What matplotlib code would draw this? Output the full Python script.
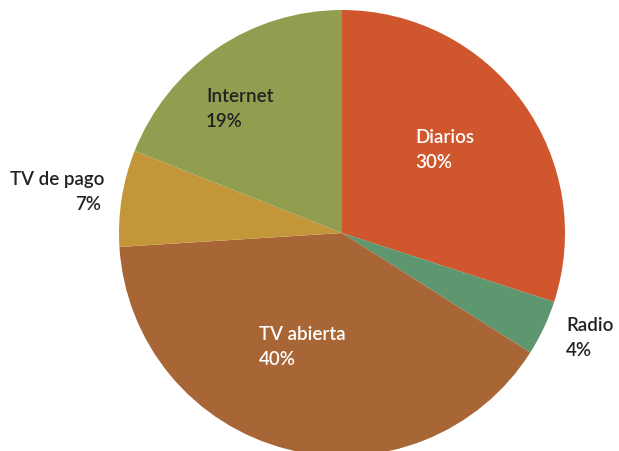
import matplotlib
matplotlib.use("Agg")
import matplotlib.pyplot as plt

# Audience share by medium
categories = ["Diarios", "Radio", "TV abierta", "TV de pago", "Internet"]
shares = [30, 4, 40, 7, 19]
colors = ["#CF562D", "#5E9670", "#A86536", "#C3963A", "#929E4F"]
text_colors = ["white", "#222222", "white", "#222222", "#222222"]

# label anchor (x, baseline y in pixels from top) and alignment
label_pos = [(415, 143), (566, 331), (259, 340), (104, 185), (206, 102)]
label_ha = ["left", "left", "left", "right", "left"]

W, H = 619, 452
fig = plt.figure(figsize=(W / 100, H / 100), dpi=100)
ax = fig.add_axes([0, 0, 1, 1])

cx, cy, r = 342, H - 234, 223
ax.pie(shares, colors=colors, startangle=90, counterclock=False,
       center=(cx, cy), radius=r, frame=True,
       wedgeprops=dict(linewidth=0))
ax.set_xlim(0, W)
ax.set_ylim(0, H)
ax.set_aspect("equal")
ax.axis("off")

for name, val, (x, y), ha, tc in zip(categories, shares, label_pos, label_ha, text_colors):
    kw = dict(fontsize=13.5, family=["Lato", "DejaVu Sans"], weight="semibold",
              color=tc, ha=ha, va="baseline")
    ax.text(x, H - y, name, **kw)
    ax.text(x if ha == "left" else x - 3, H - y - 25, f"{val}%", **kw)

fig.savefig("out.png", dpi=100)
